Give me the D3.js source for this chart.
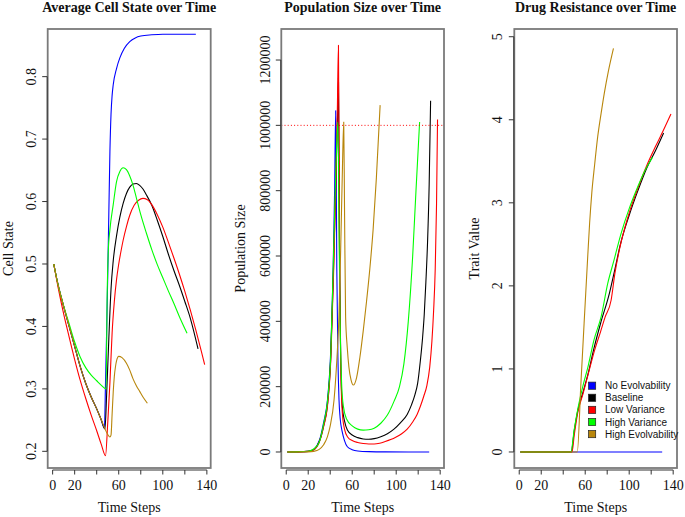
<!DOCTYPE html>
<html><head><meta charset="utf-8">
<script src="https://cdn.jsdelivr.net/npm/d3@7"></script>
<style>body{margin:0;background:#fff}</style>
</head><body><svg id="c" width="685" height="517"></svg>
<script>
// ---------- data ----------
const seriesNames = ["No Evolvability","Baseline","Low Variance","High Variance","High Evolvability"];
const seriesColors = ["#0000ff","#000000","#ff0000","#00ff00","#b8860b"];
const panelTitles = ["Average Cell State over Time","Population Size over Time","Drug Resistance over Time"];
const yLabels = ["Cell State","Population Size","Trait Value"];
const xLabel = "Time Steps";
const xTicks = [0,20,40,60,80,100,120,140];
const xTickLabels = ["0","20","","60","","100","","140"];
const yTicks1 = [0.2,0.3,0.4,0.5,0.6,0.7,0.8];
const yTicks2 = [0,200000,400000,600000,800000,1000000,1200000];
const yTicks3 = [0,1,2,3,4,5];
const capacity = 1000000;

// Panel 1: average cell state  [time, value]
const cellBlue = [[1,0.5],[5,0.466],[10,0.432],[15,0.4],[20,0.368],[25,0.336],[30,0.309],[35,0.287],[40,0.268],[44,0.251],[47,0.237],[48,0.31],[49,0.39],[50,0.48],[51,0.58],[52,0.68],[53,0.74],[54,0.77],[55,0.787],[58,0.813],[61,0.83],[65,0.845],[70,0.856],[75,0.862],[80,0.865],[90,0.867],[100,0.868],[130,0.868]];
const cellBlack = [[1,0.5],[5,0.466],[10,0.432],[15,0.4],[20,0.368],[25,0.336],[30,0.309],[35,0.287],[40,0.268],[44,0.251],[47.5,0.236],[49,0.29],[51,0.38],[53,0.46],[55,0.505],[58,0.545],[61,0.575],[64,0.597],[67,0.613],[70,0.623],[73,0.628],[76,0.629],[79,0.626],[82,0.62],[85,0.611],[90,0.594],[95,0.57],[100,0.544],[105,0.516],[110,0.49],[115,0.466],[120,0.44],[125,0.413],[132,0.364]];
const cellRed = [[1,0.5],[5,0.462],[10,0.42],[15,0.383],[20,0.347],[25,0.314],[30,0.285],[35,0.258],[40,0.233],[44,0.212],[48,0.193],[50,0.245],[52,0.31],[54,0.39],[56,0.44],[58,0.475],[60,0.5],[62,0.52],[64,0.538],[67,0.56],[70,0.578],[74,0.594],[78,0.602],[82,0.605],[86,0.603],[90,0.595],[95,0.579],[100,0.559],[105,0.535],[110,0.51],[115,0.484],[120,0.456],[125,0.426],[130,0.394],[135,0.36],[138,0.339]];
const cellGreen = [[1,0.5],[5,0.466],[10,0.433],[15,0.404],[20,0.375],[25,0.351],[30,0.334],[35,0.322],[40,0.313],[44,0.306],[48.5,0.3],[49.5,0.45],[50.5,0.52],[52,0.555],[55,0.595],[58,0.632],[61,0.648],[64,0.654],[67,0.651],[70,0.641],[73,0.626],[76,0.606],[80,0.579],[85,0.55],[90,0.523],[95,0.499],[100,0.478],[105,0.457],[110,0.437],[115,0.416],[122,0.389]];
const cellBrown = [[1,0.5],[5,0.466],[10,0.432],[15,0.4],[20,0.368],[25,0.336],[30,0.309],[35,0.287],[40,0.268],[44,0.251],[47,0.238],[50,0.227],[52,0.223],[53,0.226],[54,0.26],[55,0.295],[56,0.32],[57,0.335],[58,0.345],[60,0.352],[63,0.35],[67,0.341],[70,0.33],[73,0.316],[76,0.305],[79,0.296],[82,0.287],[86,0.277]];

// Panel 2: population size
const popBlue = [[1,0],[10,500],[20,2000],[25,8000],[28,20000],[31,45000],[34,90000],[37.5,159000],[40.5,312000],[43,618000],[44,800000],[45,1045000],[46,560000],[47,290000],[48,160000],[49,105000],[51,61000],[53,35000],[55.6,16000],[60,7000],[65,3000],[75,1000],[90,300],[130,0]];
const popBlack = [[1,0],[10,400],[20,2000],[25,7000],[28,18000],[31,40000],[34,80000],[37.5,145000],[40.5,290000],[43,560000],[45,820000],[46.5,1000000],[47.5,1145000],[48.5,600000],[49.5,300000],[51,140000],[53,95000],[55.6,67000],[60,52000],[65,44000],[70,40000],[75,39000],[80,41000],[86,47000],[92,56000],[98,70000],[104,90000],[110,115000],[114,145000],[117,175000],[119.5,210000],[122,280000],[124,350000],[125.5,420000],[127,520000],[128.5,640000],[130,820000],[131.3,1075000]];
const popRed = [[1,0],[10,400],[20,2000],[25,7000],[30,30000],[34,78000],[37.5,140000],[40.5,280000],[43,540000],[45,800000],[46.5,1050000],[47.5,1245000],[48.5,580000],[49.5,280000],[51,120000],[53,70000],[56,45000],[60,35000],[65,29000],[70,26000],[75,24500],[80,24500],[85,27000],[90,32000],[95,38000],[100,46000],[105,56000],[110,70000],[115,92000],[119,115000],[122,140000],[125,170000],[128,205000],[130.5,260000],[132.5,340000],[134,430000],[135.5,560000],[136.7,760000],[137.6,1018000]];
const popGreen = [[1,0],[10,500],[20,2500],[25,9000],[30,30000],[34,85000],[37.5,155000],[40.5,300000],[43,600000],[45,850000],[47,1010000],[48,700000],[49,400000],[50.5,200000],[52,140000],[55,100000],[60,80000],[65,70000],[70,67000],[75,68000],[80,73000],[86,88000],[92,113000],[98,155000],[103,200000],[107,270000],[111,400000],[115,600000],[118,800000],[121.3,1010000]];
const popBrown = [[1,0],[10,100],[20,500],[25,2000],[30,8000],[34,22000],[37.5,47000],[40,80000],[43.5,160000],[46,280000],[48,420000],[49.5,618000],[51,850000],[52.3,1010000],[53,750000],[54,414000],[55.5,320000],[57,260000],[59,220000],[61,205000],[64,228000],[67,290000],[70,370000],[73,460000],[76,560000],[79,680000],[82,840000],[85.4,1062000]];

// Panel 3: drug resistance trait value
const traitBlue = [[1,0],[130,0]];
const traitBlack = [[1,0],[47.3,0],[50,0.25],[53.3,0.5],[58,0.72],[62.4,0.93],[68,1.25],[74,1.55],[82,1.91],[87,2.2],[92,2.5],[100,2.85],[108,3.15],[116,3.42],[124,3.63],[131.3,3.84]];
const traitRed = [[1,0],[48,0],[50,0.2],[53.3,0.48],[58,0.7],[62.4,0.92],[68,1.2],[74,1.45],[78,1.62],[83.6,1.83],[87,2.15],[91,2.43],[96,2.7],[100,2.88],[108,3.18],[116,3.45],[124,3.68],[131,3.87],[138,4.07]];
const traitGreen = [[1,0],[47,0],[50,0.27],[53.3,0.52],[58,0.8],[62.4,1.02],[68,1.35],[74.5,1.63],[80.5,2.03],[86,2.3],[92.6,2.63],[100,2.93],[107.7,3.19],[114,3.38],[121.3,3.55]];
const traitBrown = [[1,0],[52.8,0],[56,0.8],[59,1.55],[62.4,2.38],[64,2.75],[66,3.12],[68.5,3.45],[71.4,3.8],[74.5,4.08],[77.5,4.33],[81,4.58],[85.7,4.86]];

// ---------- layout ----------
const svg = d3.select("#c");
svg.append("rect").attr("width",685).attr("height",517).attr("fill","#fff");
const serif = "'Liberation Serif','Times New Roman',serif";
const sans = "'Liberation Sans',Arial,sans-serif";

const panels = [
  {box:[47.7,29,210.7,468], yDom:[0.1733,0.8763], yTicks:yTicks1, fmt:d=>d.toFixed(1), data:[cellBlue,cellBlack,cellRed,cellGreen,cellBrown], yLabX:12.5, yTickX:35.5},
  {box:[281.3,29,444,468], yDom:[-49000,1295000], yTicks:yTicks2, fmt:d=>String(d), data:[popBlue,popBlack,popRed,popGreen,popBrown], yLabX:245, yTickX:269.5},
  {box:[514.3,29,677,468], yDom:[-0.193,5.093], yTicks:yTicks3, fmt:d=>String(d), data:[traitBlue,traitBlack,traitRed,traitGreen,traitBrown], yLabX:478.5, yTickX:501.5}
];

panels.forEach((p,i)=>{
  const [l,t,r,b] = p.box;
  const x = d3.scaleLinear().domain([-4.48,143.48]).range([l,r]);
  const y = d3.scaleLinear().domain(p.yDom).range([b,t]);
  const g = svg.append("g");

  const line = d3.line().x(d=>x(d[0])).y(d=>y(d[1])).curve(d3.curveMonotoneX);
  p.data.forEach((ser,k)=>{
    g.append("path").attr("d",line(ser)).attr("fill","none")
     .attr("stroke",seriesColors[k]).attr("stroke-width",1.1).attr("stroke-linejoin","round");
  });

  if(i===1){
    g.append("line").attr("x1",l).attr("x2",r).attr("y1",y(capacity)).attr("y2",y(capacity))
     .attr("stroke","#ff0000").attr("stroke-width",1).attr("stroke-dasharray","1,2.2");
  }

  g.append("rect").attr("x",l).attr("y",t).attr("width",r-l).attr("height",b-t)
   .attr("fill","none").attr("stroke","#7a7a7a").attr("stroke-width",1.8);

  const xa = b+2;
  g.append("line").attr("x1",x(xTicks[0])).attr("x2",x(xTicks[xTicks.length-1]))
   .attr("y1",xa).attr("y2",xa).attr("stroke","#333").attr("stroke-width",1);
  xTicks.forEach((v,j)=>{
    g.append("line").attr("x1",x(v)).attr("x2",x(v)).attr("y1",xa).attr("y2",xa+4.5)
     .attr("stroke","#333").attr("stroke-width",1);
    if(xTickLabels[j]) g.append("text").attr("x",x(v)).attr("y",489.5).attr("text-anchor","middle")
     .attr("font-family",serif).attr("font-size",14).attr("fill","#111").text(xTickLabels[j]);
  });
  g.append("text").attr("x",(l+r)/2).attr("y",511.5).attr("text-anchor","middle")
   .attr("font-family",serif).attr("font-size",14).attr("fill","#111").text(xLabel);

  const ya = l-0.5;
  g.append("line").attr("x1",ya).attr("x2",ya).attr("y1",y(p.yTicks[0])).attr("y2",y(p.yTicks[p.yTicks.length-1]))
   .attr("stroke","#333").attr("stroke-width",1);
  p.yTicks.forEach(v=>{
    g.append("line").attr("x1",ya).attr("x2",ya-5).attr("y1",y(v)).attr("y2",y(v))
     .attr("stroke","#333").attr("stroke-width",1);
    g.append("text").attr("transform",`translate(${p.yTickX},${y(v)}) rotate(-90)`).attr("text-anchor","middle")
     .attr("font-family",serif).attr("font-size",14).attr("fill","#111").text(p.fmt(v));
  });
  g.append("text").attr("transform",`translate(${p.yLabX},${(t+b)/2}) rotate(-90)`).attr("text-anchor","middle")
   .attr("font-family",serif).attr("font-size",14).attr("fill","#111").text(yLabels[i]);

  g.append("text").attr("x",(l+r)/2).attr("y",11.5).attr("text-anchor","middle")
   .attr("font-family",serif).attr("font-size",14).attr("font-weight","bold").attr("fill","#111").text(panelTitles[i]);

  if(i===2){
    const lg = g.append("g");
    seriesNames.forEach((nm,k)=>{
      const cy = 385.7 + k*12.1;
      lg.append("rect").attr("x",588.5).attr("y",cy-3.6).attr("width",7.2).attr("height",7.2)
        .attr("fill",seriesColors[k]).attr("stroke","#222").attr("stroke-width",0.7);
      lg.append("text").attr("x",605).attr("y",cy+3.5).attr("font-family",sans).attr("font-size",10)
        .attr("fill","#111").text(nm);
    });
  }
});
</script></body></html>
